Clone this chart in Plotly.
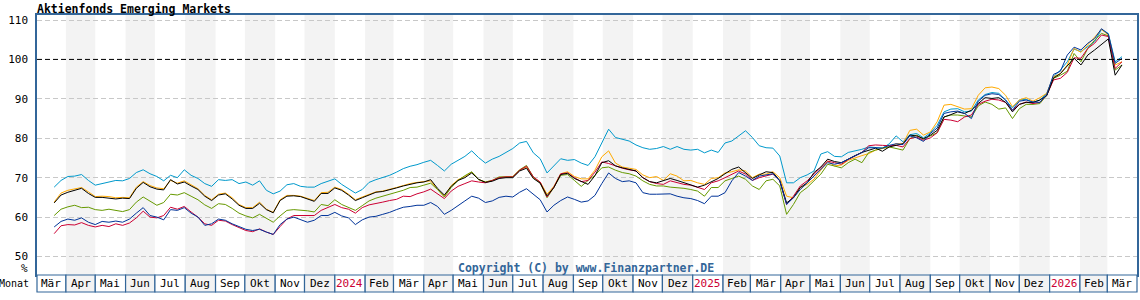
import plotly.graph_objects as go
import pandas as pd

# ---------------- data ----------------
DATES = pd.date_range("2023-03-20", periods=157, freq="7D")

LIGHT_BLUE = [
    67.6, 69.3, 70.3, 70.4, 70.8, 69.3, 68.1, 68.5, 68.9, 69.3, 69.2, 69.8, 71.3, 72.0, 71.0, 70.3, 69.2, 70.6, 70.0, 72.0,
    70.6, 69.8, 68.5, 67.8, 69.5, 69.3, 69.5, 68.5, 68.9, 68.1, 69.2, 66.8, 65.9, 66.6, 68.2, 68.5, 67.8, 67.6, 67.6, 68.5,
    69.1, 69.7, 68.3, 67.2, 66.1, 67.0, 68.8, 69.5, 70.0, 70.6, 71.4, 72.3, 72.9, 73.3, 73.9, 74.4, 73.1, 71.7, 73.4, 74.4,
    75.4, 76.8, 75.1, 73.7, 74.7, 75.4, 76.3, 77.4, 78.8, 79.2, 76.3, 74.8, 71.2, 73.1, 74.8, 74.4, 74.6, 73.7, 73.1, 75.3,
    78.6, 82.3,
    80.2, 79.8, 79.3, 78.3, 77.6, 77.2, 77.4, 77.9, 77.2, 77.9, 77.2, 77.0, 77.2, 76.3, 77.0, 76.4, 78.8, 79.3, 80.6, 81.9,
    80.2, 78.1, 77.6, 77.5, 75.5, 68.7, 68.7, 70.0, 70.7, 71.7, 76.0, 76.6, 75.4, 75.3, 76.4, 76.8, 77.2, 77.8, 77.6,
    77.5, 78.6, 80.6, 79.1, 80.9, 81.2, 80.1, 81.4, 83.3, 86.7, 87.4, 87.5, 86.7, 86.9, 89.7, 91.1, 91.6, 91.4, 89.7, 87.7,
    89.7, 89.9, 89.1, 89.7, 91.4, 95.6, 97.3, 99.4, 102.6, 102.0, 103.2, 104.5, 107.6, 106.6, 99.4, 100.7,
]
ORANGE = [
    63.8, 66.1, 66.8, 67.1, 67.5, 66.4, 65.2, 65.3, 65.2, 64.9, 65.0, 64.9, 67.6, 69.0, 68.0, 67.4, 67.2, 69.3, 68.6, 69.2,
    68.2, 67.2, 65.5, 64.4, 65.8, 66.1, 64.9, 63.2, 62.4, 62.4, 63.8, 62.0, 61.2, 64.4, 65.5, 65.5, 65.3, 64.7, 64.2, 66.2,
    66.3, 67.6, 67.0, 65.8, 64.4, 65.1, 65.8, 66.4, 66.6, 67.0, 67.5, 68.0, 68.5, 68.8, 69.0, 69.2, 67.0, 65.3, 68.0, 69.5,
    70.3, 71.4, 69.5, 68.9, 69.3, 70.0, 70.2, 70.3, 71.9, 72.7, 70.0, 68.9, 65.8, 67.8, 71.0, 71.5, 70.3, 69.7, 69.7, 71.9,
    75.3, 76.8,
    73.7, 72.7, 72.4, 72.1, 70.7, 70.0, 70.3, 69.3, 71.0, 70.4, 69.2, 69.3, 68.7, 68.3, 69.8, 70.0, 71.2, 71.5, 72.0, 71.7,
    70.0, 70.9, 70.9, 71.5, 70.0, 65.3, 64.9, 67.5, 68.3, 69.6, 71.9, 74.2, 73.0, 73.2, 74.4, 75.1, 75.6, 76.1, 77.0,
    77.4, 77.8, 78.6, 78.6, 82.0, 82.3, 80.8, 81.6, 84.2, 88.4, 88.6, 88.0, 87.4, 87.5, 90.9, 92.8, 93.0, 92.6, 90.9, 88.0,
    89.7, 90.3, 89.4, 90.3, 91.4, 95.6, 96.4, 98.6, 102.8, 101.8, 103.8, 105.8, 107.6, 106.2, 98.6, 99.4,
]
BLACK = [
    63.6, 65.6, 66.3, 66.8, 67.3, 66.0, 65.0, 65.0, 64.8, 64.6, 64.8, 64.7, 67.3, 68.8, 67.7, 67.1, 66.9, 69.5, 68.4, 68.9,
    67.9, 67.0, 65.3, 64.2, 65.6, 65.9, 64.6, 63.0, 62.2, 62.2, 63.5, 61.9, 61.1, 64.2, 65.3, 65.4, 65.2, 64.5, 64.0, 66.0,
    66.0, 67.4, 66.8, 65.6, 64.2, 64.9, 65.7, 66.3, 66.5, 66.9, 67.4, 67.9, 68.3, 68.7, 68.9, 69.5, 67.3, 65.6, 67.8, 69.3,
    70.0, 71.2, 69.6, 68.8, 69.1, 69.8, 70.0, 70.0, 71.7, 72.4, 69.8, 68.6, 65.4, 67.5, 70.8, 71.1, 69.8, 69.0, 68.3, 70.5,
    73.8, 74.3,
    73.0, 72.5, 72.1, 71.7, 70.0, 69.0, 68.7, 69.2, 69.8, 69.3, 68.7, 68.3, 67.6, 68.1, 69.0, 69.8, 71.0, 72.1, 72.7, 71.3,
    69.8, 70.7, 71.5, 71.3, 69.3, 63.6, 64.9, 67.5, 68.7, 71.3, 72.7, 74.7, 74.1, 73.8, 74.8, 75.6, 76.4, 77.0, 77.5,
    76.7, 77.8, 78.2, 78.6, 80.8, 80.6, 79.9, 80.8, 82.0, 85.4, 86.0, 86.7, 86.3, 87.1, 88.8, 90.3, 90.1, 90.3, 89.1, 86.7,
    88.6, 89.1, 89.1, 89.7, 90.8, 95.3, 96.4, 98.4, 100.3, 98.6, 101.1, 102.4, 103.8, 105.2, 96.0, 98.6,
]
GREEN = [
    60.4, 62.0, 62.6, 63.0, 62.4, 62.5, 61.9, 61.7, 62.0, 61.7, 61.4, 61.9, 63.8, 65.1, 64.0, 63.0, 63.7, 65.8, 65.6, 66.2,
    65.3, 64.4, 63.1, 62.2, 63.4, 63.2, 62.2, 61.0, 60.3, 59.8, 60.7, 59.8, 58.7, 60.3, 61.7, 61.9, 61.8, 61.6, 61.3, 63.2,
    62.9, 64.4, 63.2, 62.5, 61.7, 62.9, 64.1, 64.8, 65.3, 65.8, 66.2, 66.8, 67.5, 67.6, 68.1, 68.6, 67.0, 65.1, 67.5, 69.3,
    70.5, 71.5, 69.5, 68.9, 69.3, 70.2, 70.2, 70.2, 72.0, 73.1, 70.2, 68.6, 64.9, 67.5, 70.6, 70.8, 69.3, 67.8, 69.3, 70.6,
    72.5, 72.7,
    71.9, 71.3, 71.0, 70.4, 69.2, 68.3, 67.9, 67.9, 67.6, 67.5, 67.3, 67.0, 66.6, 65.3, 67.5, 67.5, 69.2, 69.8, 70.4, 69.6,
    67.9, 67.0, 69.2, 69.6, 67.9, 60.7, 63.2, 66.2, 67.5, 69.2, 70.9, 73.4, 73.0, 72.5, 73.8, 74.7, 73.8, 76.4, 77.0,
    77.5, 77.8, 77.4, 77.0, 79.9, 80.8, 79.8, 80.6, 81.4, 85.4, 85.9, 85.9, 85.7, 85.4, 88.2, 89.2, 88.6, 87.4, 87.7, 85.0,
    87.5, 88.6, 88.6, 88.8, 90.9, 95.2, 96.0, 97.0, 101.5, 99.4, 102.8, 104.9, 106.6, 106.0, 97.3, 98.6,
]
CRIMSON = [
    55.8, 57.8, 58.1, 58.0, 58.6, 57.9, 57.5, 57.9, 57.6, 58.3, 57.9, 58.5, 59.8, 61.5, 60.0, 59.8, 60.4, 62.5, 62.0, 62.7,
    61.3, 60.0, 58.3, 57.9, 59.2, 59.0, 58.1, 57.3, 56.6, 56.3, 57.0, 56.2, 55.6, 57.6, 59.5, 60.4, 60.4, 60.4, 60.4, 61.7,
    62.5, 63.2, 62.4, 62.0, 61.0, 62.4, 63.1, 63.4, 63.8, 64.2, 64.5, 65.3, 65.2, 65.9, 66.4, 67.1, 65.9, 64.7, 66.6, 67.8,
    68.5, 69.2, 68.9, 68.7, 69.3, 70.0, 70.2, 70.2, 71.9, 72.9, 70.2, 68.9, 65.1, 67.6, 71.0, 71.2, 70.0, 69.0, 69.3, 71.4,
    74.0, 73.6,
    73.0, 72.4, 72.0, 71.7, 70.0, 69.0, 68.5, 68.3, 69.2, 68.7, 68.3, 68.1, 67.6, 67.0, 68.7, 69.2, 70.0, 70.9, 71.7, 70.9,
    69.3, 70.0, 70.4, 70.9, 69.2, 63.2, 65.3, 67.9, 69.2, 70.9, 72.4, 74.2, 73.8, 73.4, 74.6, 75.5, 76.4, 78.1, 78.3,
    78.2, 78.1, 78.2, 77.8, 79.9, 80.3, 79.5, 80.1, 81.4, 84.8, 84.6, 84.2, 85.4, 85.9, 88.6, 89.4, 89.9, 89.7, 89.1, 87.1,
    88.6, 89.2, 88.8, 89.1, 90.9, 94.8, 95.2, 96.7, 100.4, 100.3, 102.8, 104.1, 106.2, 105.8, 97.7, 99.4,
]
DARK_BLUE = [
    57.5, 58.9, 59.5, 59.2, 59.8, 58.7, 58.1, 58.9, 58.7, 59.0, 58.7, 59.5, 61.0, 62.4, 60.4, 60.0, 59.3, 61.9, 61.7, 62.4,
    61.0, 60.0, 57.9, 58.3, 59.5, 59.2, 58.3, 57.5, 56.9, 56.6, 56.9, 56.2, 55.6, 58.1, 59.5, 60.0, 59.3, 58.7, 59.2, 60.4,
    60.4, 61.2, 60.3, 59.8, 58.1, 59.3, 60.0, 60.2, 60.7, 61.2, 61.9, 62.5, 62.7, 63.0, 63.0, 63.7, 62.7, 60.7, 61.7, 63.0,
    64.1, 65.3, 64.8, 63.7, 64.1, 65.0, 65.3, 65.1, 66.3, 67.2, 65.8, 64.4, 61.3, 63.0, 64.2, 65.1, 64.5, 63.8, 64.1, 65.5,
    68.5, 71.2,
    69.8, 69.0, 69.2, 68.7, 66.2, 65.8, 65.8, 65.8, 65.9, 65.3, 64.9, 64.7, 64.2, 63.4, 65.3, 65.3, 66.2, 69.2, 71.3, 70.4,
    69.3, 70.4, 70.7, 71.0, 69.2, 63.2, 64.9, 67.0, 68.7, 70.4, 72.1, 73.8, 73.4, 73.8, 74.7, 75.5, 76.4, 77.6, 77.6,
    77.5, 78.2, 78.6, 78.4, 80.6, 80.1, 79.2, 81.2, 82.6, 86.3, 86.7, 86.9, 86.3, 85.0, 89.4, 90.9, 91.3, 91.1, 89.7, 87.1,
    89.4, 89.7, 89.2, 89.1, 91.1, 96.2, 97.0, 101.1, 103.1, 102.4, 104.1, 105.3, 107.8, 106.4, 99.0, 100.3,
]

MONTH_STARTS = pd.date_range("2023-03-01", periods=37, freq="MS")
MONTH_LABELS = [
    "Mär", "Apr", "Mai", "Jun", "Jul", "Aug", "Sep", "Okt", "Nov", "Dez",
    "2024", "Feb", "Mär", "Apr", "Mai", "Jun", "Jul", "Aug", "Sep", "Okt", "Nov", "Dez",
    "2025", "Feb", "Mär", "Apr", "Mai", "Jun", "Jul", "Aug", "Sep", "Okt", "Nov", "Dez",
    "2026", "Feb", "Mär",
]
Y_TICKS = [50, 60, 70, 80, 90, 100, 110]

# ---------------- style ----------------
FONT = "DejaVu Sans Mono"
FRAME = "#336699"
BAND = "#f3f3f3"
RANGE0 = pd.Timestamp("2023-03-02 10:00")
RANGE1 = pd.Timestamp("2026-03-31 08:00")
W, H = 1140, 300
ML, MR, MT, MB = 37, 1, 15, 25
PH = H - MT - MB
PW = W - ML - MR
ROW_H = 17 / PH

series = [
    ("light blue", LIGHT_BLUE, "#0099cc"),
    ("orange", ORANGE, "#ffaa00"),
    ("green", GREEN, "#669900"),
    ("crimson", CRIMSON, "#cc0033"),
    ("black", BLACK, "#000000"),
    ("dark blue", DARK_BLUE, "#003399"),
]

fig = go.Figure()
for name, vals, col in series:
    fig.add_trace(go.Scatter(x=DATES, y=vals, mode="lines", name=name,
                             line=dict(color=col, width=1), hoverinfo="skip"))


def px(d):
    return (d - RANGE0) / (RANGE1 - RANGE0)


shapes = []
annotations = []
for i, ms in enumerate(MONTH_STARTS):
    nxt = MONTH_STARTS[i + 1] if i + 1 < len(MONTH_STARTS) else pd.Timestamp("2026-04-01")
    a = max(ms, RANGE0)
    b = min(nxt, RANGE1)
    x0, x1 = px(a), px(b)
    fill = BAND if i % 2 == 1 else "white"
    if i % 2 == 1:
        shapes.append(dict(type="rect", xref="paper", yref="paper", x0=x0, x1=x1, y0=0, y1=1,
                           fillcolor=BAND, line=dict(width=0), layer="below"))
    shapes.append(dict(type="rect", xref="paper", yref="paper", x0=x0, x1=x1, y0=-ROW_H, y1=0,
                       fillcolor=fill, line=dict(color=FRAME, width=1.2), layer="above"))
    lab = MONTH_LABELS[i]
    annotations.append(dict(x=(x0 + x1) / 2, y=-ROW_H / 2, xref="paper", yref="paper",
                            text=lab, showarrow=False, xanchor="center", yanchor="middle",
                            font=dict(family=FONT, size=11,
                                      color="#cc0033" if lab.isdigit() else "#000000")))

# 100 line
shapes.append(dict(type="line", xref="paper", yref="y", x0=0, x1=1, y0=100, y1=100,
                   line=dict(color="#000000", width=1, dash="5px,3px"), layer="above"))

annotations.append(dict(x=-6 / PW, y=-ROW_H / 2, xref="paper", yref="paper",
                        text="Monat", showarrow=False, xanchor="right", yanchor="middle",
                        font=dict(family=FONT, size=10, color="#000000")))
annotations.append(dict(x=-7 / PW, y=7 / PH, xref="paper", yref="paper",
                        text="%", showarrow=False, xanchor="right", yanchor="middle",
                        font=dict(family=FONT, size=11, color="#000000")))
annotations.append(dict(x=0.4995, y=7 / PH, xref="paper", yref="paper",
                        text="<b>Copyright (C) by www.Finanzpartner.DE</b>", showarrow=False,
                        xanchor="center", yanchor="middle",
                        font=dict(family=FONT, size=11.5, color=FRAME)))

fig.update_layout(
    width=W, height=H,
    margin=dict(l=ML, r=MR, t=MT, b=MB, pad=0),
    paper_bgcolor="white", plot_bgcolor="white",
    showlegend=False,
    title=dict(text="<b>Aktienfonds Emerging Markets</b>", x=37 / W, xref="container",
               xanchor="left", y=1 - 8.5 / H, yref="container", yanchor="middle",
               font=dict(family=FONT, size=11.5, color="#000000")),
    shapes=shapes,
    annotations=annotations,
    xaxis=dict(range=[RANGE0, RANGE1], showgrid=False, showticklabels=False, zeroline=False,
               showline=True, mirror=True, linecolor=FRAME, linewidth=1.5, ticks=""),
    yaxis=dict(range=[45.31, 111.27], tickvals=Y_TICKS, ticktext=[str(v) for v in Y_TICKS],
               showgrid=True, gridcolor="#c8c8c8", griddash="5px,3px", gridwidth=1,
               zeroline=False, showline=True, mirror=True, linecolor=FRAME, linewidth=1.5,
               ticks="outside", ticklen=5, tickcolor="rgba(0,0,0,0)",
               tickfont=dict(family=FONT, size=11, color="#000000")),
)

fig.write_html("out.html")
